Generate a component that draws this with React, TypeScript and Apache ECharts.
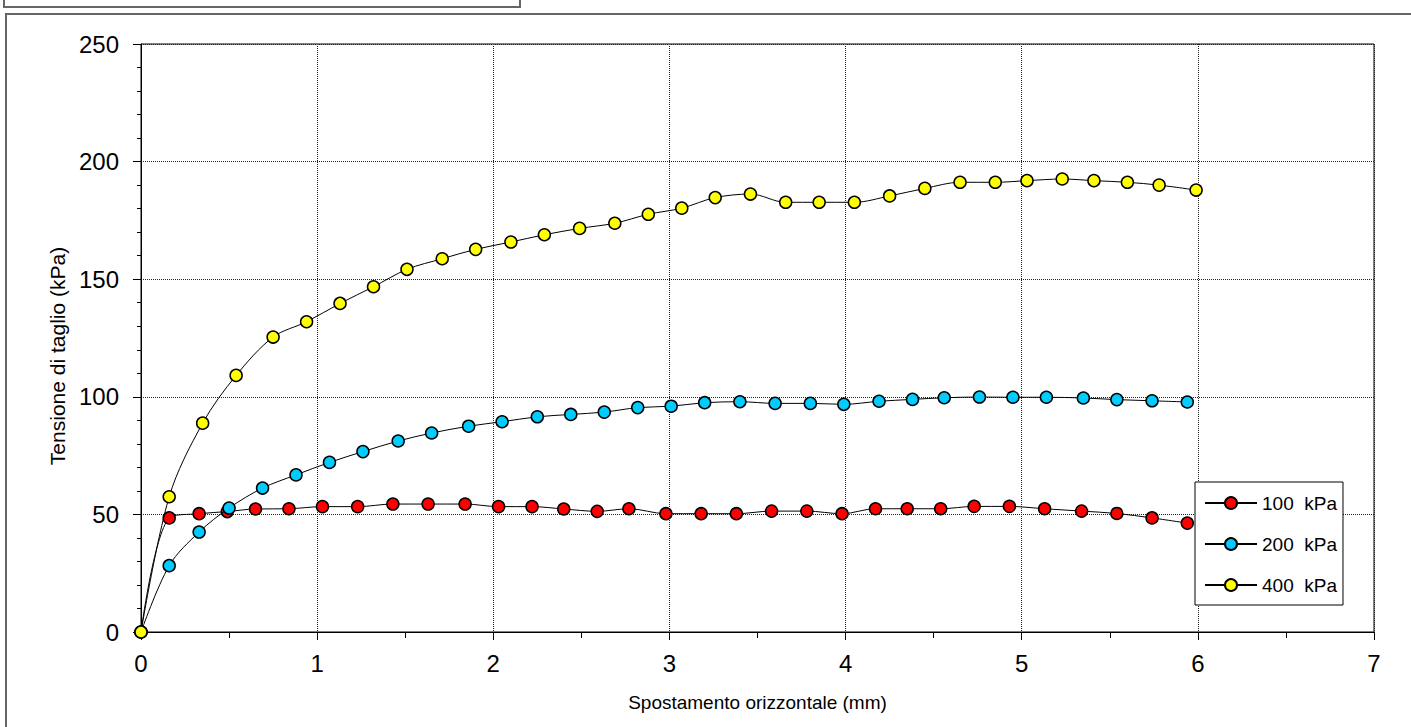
import React, { useEffect, useRef } from "react";
import * as echarts from "echarts";

const seriesNames = ["100  kPa", "200  kPa", "400  kPa"];
const seriesColors = ["#FF0000", "#00CCFF", "#FFFF00"];

const disp100 = [0, 0.16, 0.33, 0.49, 0.65, 0.84, 1.03, 1.23, 1.43, 1.63, 1.84, 2.03, 2.22, 2.4, 2.59, 2.77, 2.98, 3.18, 3.38, 3.58, 3.78, 3.98, 4.17, 4.35, 4.54, 4.73, 4.93, 5.13, 5.34, 5.54, 5.74, 5.94];
const tau100 = [0, 48.5, 50.3, 51.2, 52.3, 52.4, 53.3, 53.3, 54.4, 54.4, 54.4, 53.3, 53.3, 52.3, 51.3, 52.4, 50.3, 50.3, 50.3, 51.4, 51.4, 50.3, 52.4, 52.4, 52.4, 53.4, 53.4, 52.4, 51.4, 50.4, 48.5, 46.3];

const disp200 = [0, 0.16, 0.33, 0.5, 0.69, 0.88, 1.07, 1.26, 1.46, 1.65, 1.86, 2.05, 2.25, 2.44, 2.63, 2.82, 3.01, 3.2, 3.4, 3.6, 3.8, 3.99, 4.19, 4.38, 4.56, 4.76, 4.95, 5.14, 5.35, 5.54, 5.74, 5.94];
const tau200 = [0, 28.2, 42.5, 52.7, 61.2, 66.8, 72.1, 76.7, 81.2, 84.6, 87.5, 89.4, 91.5, 92.5, 93.5, 95.4, 96.0, 97.5, 97.9, 97.2, 97.2, 96.8, 98.1, 98.9, 99.6, 99.9, 99.8, 99.8, 99.5, 98.8, 98.3, 97.8];

const disp400 = [0, 0.16, 0.35, 0.54, 0.75, 0.94, 1.13, 1.32, 1.51, 1.71, 1.9, 2.1, 2.29, 2.49, 2.69, 2.88, 3.07, 3.26, 3.46, 3.66, 3.85, 4.05, 4.25, 4.45, 4.65, 4.85, 5.03, 5.23, 5.41, 5.6, 5.78, 5.99];
const tau400 = [0, 57.5, 88.8, 109.1, 125.4, 131.9, 139.7, 146.8, 154.2, 158.7, 162.7, 165.8, 168.9, 171.6, 173.8, 177.6, 180.2, 184.7, 186.2, 182.7, 182.7, 182.7, 185.4, 188.6, 191.2, 191.2, 191.9, 192.6, 191.9, 191.2, 190.0, 187.9];

const xAxisName = "Spostamento orizzontale (mm)";
const yAxisName = "Tensione di taglio (kPa)";

const allX = [disp100, disp200, disp400];
const allY = [tau100, tau200, tau400];

const FONT = "'Liberation Sans', Arial, sans-serif";

export default function App() {
  const ref = useRef<HTMLDivElement>(null);
  useEffect(() => {
    if (!ref.current) return;
    const chart = echarts.init(ref.current, null, { renderer: "svg" });
    const series = seriesNames.map((name, i) => ({
      name,
      type: "line",
      data: allX[i].map((x, j) => [x, allY[i][j]]),
      smooth: 0.33,
      symbol: "circle",
      symbolSize: 12,
      showSymbol: true,
      lineStyle: { color: "#000", width: 1 },
      itemStyle: { color: seriesColors[i], borderColor: "#000", borderWidth: 1.5 },
      z: 2 + i,
    }));
    chart.setOption({
      animation: false,
      backgroundColor: "#fff",
      textStyle: { fontFamily: FONT },
      grid: {
        show: true,
        left: 141,
        top: 44,
        right: 37,
        bottom: 95,
        borderColor: "#000",
        borderWidth: 1,
        backgroundColor: "transparent",
      },
      graphic: [
        {
          type: "rect",
          shape: { x: 4, y: -10, width: 516, height: 17 },
          style: { fill: "none", stroke: "#666", lineWidth: 2 },
          silent: true,
        },
        {
          type: "rect",
          shape: { x: 6, y: 14, width: 1420, height: 740 },
          style: { fill: "none", stroke: "#666", lineWidth: 2 },
          silent: true,
        },
      ],
      legend: {
        orient: "vertical",
        left: 1195,
        top: 482,
        data: seriesNames,
        backgroundColor: "#fff",
        borderColor: "#000",
        borderWidth: 1,
        padding: [11, 6, 10, 9],
        itemGap: 21,
        itemWidth: 52,
        itemHeight: 15,
        textStyle: { fontSize: 19, lineHeight: 20, color: "#000", fontFamily: FONT },
      },
      xAxis: {
        type: "value",
        min: 0,
        max: 7,
        interval: 1,
        name: xAxisName,
        nameLocation: "middle",
        nameGap: 61,
        nameTextStyle: { fontSize: 19, color: "#000", fontFamily: FONT },
        axisLine: { show: true, onZero: false, lineStyle: { color: "#000", width: 1 } },
        axisTick: { show: true, inside: false, length: 8, lineStyle: { color: "#000" } },
        minorTick: { show: true, splitNumber: 2, length: 6, lineStyle: { color: "#000" } },
        axisLabel: { fontSize: 24, color: "#000", margin: 19, fontFamily: FONT },
        splitLine: { show: true, lineStyle: { color: "#222", type: "dotted", width: 1 } },
      },
      yAxis: {
        type: "value",
        min: 0,
        max: 250,
        interval: 50,
        name: yAxisName,
        nameLocation: "middle",
        nameGap: 73,
        nameTextStyle: { fontSize: 21, color: "#000", fontFamily: FONT, padding: [0, 36, 0, 0] },
        axisLine: { show: true, onZero: false, lineStyle: { color: "#000", width: 1 } },
        axisTick: { show: true, inside: false, length: 8, lineStyle: { color: "#000" } },
        minorTick: { show: true, splitNumber: 5, length: 4, lineStyle: { color: "#000" } },
        axisLabel: { fontSize: 24, color: "#000", margin: 22, fontFamily: FONT },
        splitLine: { show: true, lineStyle: { color: "#222", type: "dotted", width: 1 } },
      },
      series,
    });
    return () => chart.dispose();
  }, []);
  return (
    <div
      ref={ref}
      style={{ position: "absolute", left: 0, top: 0, width: 1411, height: 727, background: "#fff" }}
    />
  );
}
